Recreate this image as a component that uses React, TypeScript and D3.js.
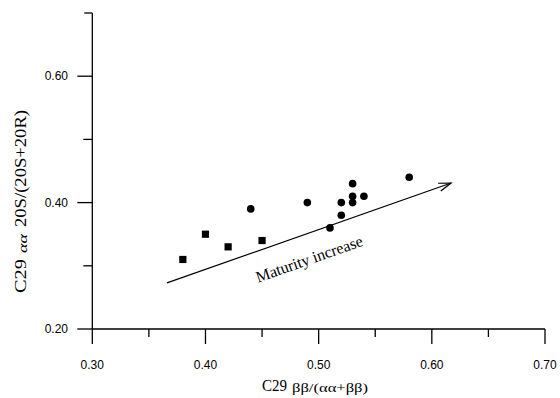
import React from "react";
import * as d3 from "d3";

const squareX = [0.38, 0.40, 0.42, 0.45];
const squareY = [0.31, 0.35, 0.33, 0.34];
const circleX = [0.44, 0.49, 0.52, 0.52, 0.51, 0.53, 0.53, 0.53, 0.54, 0.58];
const circleY = [0.39, 0.40, 0.40, 0.38, 0.36, 0.43, 0.41, 0.40, 0.41, 0.44];
const arrowX = [0.366, 0.617];
const arrowY = [0.273, 0.431];
const xMajorTicks = [0.3, 0.4, 0.5, 0.6, 0.7];
const xMinorTicks = [0.35, 0.45, 0.55, 0.65];
const yMajorTicks = [0.2, 0.4, 0.6];
const yMinorTicks = [0.3, 0.5];
const arrowLabel = "Maturity increase";

export default function App() {
  const x = d3.scaleLinear().domain([0.3, 0.7]).range([92.3, 545]);
  const y = d3.scaleLinear().domain([0.2, 0.7]).range([329, 13]);
  const tickFont = "'Liberation Sans', Arial, sans-serif";
  const serif = "'Liberation Serif', 'Times New Roman', serif";

  const x0 = x(arrowX[0]), y0 = y(arrowY[0]);
  const x1 = x(arrowX[1]), y1 = y(arrowY[1]);
  const ang = Math.atan2(y1 - y0, x1 - x0);
  const head = 13;
  const spread = 0.32;
  const hx1 = x1 - head * Math.cos(ang - spread), hy1 = y1 - head * Math.sin(ang - spread);
  const hx2 = x1 - head * Math.cos(ang + spread), hy2 = y1 - head * Math.sin(ang + spread);
  const deg = (ang * 180) / Math.PI;

  return (
    <svg width={560} height={398} style={{ position: "absolute", left: 0, top: 0, background: "#fff" }}>
      <rect width={560} height={398} fill="#fff" />
      {/* axes */}
      <line x1={x(0.3)} x2={x(0.3)} y1={y(0.7)} y2={y(0.2)} stroke="#000" strokeWidth={1.3} />
      <line x1={x(0.3)} x2={x(0.7)} y1={y(0.2)} y2={y(0.2)} stroke="#000" strokeWidth={1.3} />
      {/* y ticks */}
      {yMajorTicks.map((t) => (
        <g key={"ym" + t}>
          <line x1={x(0.3) - 15} x2={x(0.3)} y1={y(t)} y2={y(t)} stroke="#000" strokeWidth={1.3} />
          <text x={68} y={y(t)} dy="0.35em" textAnchor="end" fontFamily={tickFont} fontSize={12}>
            {t.toFixed(2)}
          </text>
        </g>
      ))}
      <line x1={x(0.3) - 8} x2={x(0.3)} y1={y(0.7)} y2={y(0.7)} stroke="#000" strokeWidth={1.3} />
      {yMinorTicks.map((t) => (
        <line key={"yn" + t} x1={x(0.3) - 9} x2={x(0.3)} y1={y(t)} y2={y(t)} stroke="#000" strokeWidth={1.3} />
      ))}
      {/* x ticks */}
      {xMajorTicks.map((t) => (
        <g key={"xm" + t}>
          <line x1={x(t)} x2={x(t)} y1={y(0.2)} y2={y(0.2) + 15} stroke="#000" strokeWidth={1.3} />
          <text x={x(t)} y={369} textAnchor="middle" fontFamily={tickFont} fontSize={12}>
            {t.toFixed(2)}
          </text>
        </g>
      ))}
      {xMinorTicks.map((t) => (
        <line key={"xn" + t} x1={x(t)} x2={x(t)} y1={y(0.2)} y2={y(0.2) + 8} stroke="#000" strokeWidth={1.3} />
      ))}
      {/* x axis title */}
      <text x={262} y={391} fontFamily={serif} fontSize={16} fill="#000" textLength={25} lengthAdjust="spacingAndGlyphs">
        C29
      </text>
      <text x={292} y={392} fontFamily={serif} fontSize={13.5} fill="#000" textLength={76} lengthAdjust="spacingAndGlyphs">
        ββ/(αα+ββ)
      </text>
      {/* y axis title */}
      <g transform="translate(26,293) rotate(-90)">
        <text x={0} y={0} fontFamily={serif} fontSize={16} fill="#000" textLength={34} lengthAdjust="spacingAndGlyphs">
          C29
        </text>
        <text x={40} y={1} fontFamily={serif} fontSize={13} fontStyle="italic" fill="#000" textLength={19} lengthAdjust="spacingAndGlyphs">
          αα
        </text>
        <text x={66} y={0} fontFamily={serif} fontSize={16} fill="#000" textLength={117} lengthAdjust="spacingAndGlyphs">
          20S/(20S+20R)
        </text>
      </g>
      {/* arrow */}
      <line x1={x0} y1={y0} x2={x1} y2={y1} stroke="#000" strokeWidth={1.2} />
      <polyline
        points={`${hx1},${hy1} ${x1},${y1} ${hx2},${hy2}`}
        fill="none"
        stroke="#000"
        strokeWidth={1.2}
      />
      <text
        transform={`translate(311,264) rotate(${deg})`}
        textAnchor="middle"
        fontFamily={serif}
        fontSize={16}
        fill="#000"
      >
        {arrowLabel}
      </text>
      {/* points */}
      {squareX.map((v, i) => (
        <rect key={"s" + i} x={x(v) - 3.6} y={y(squareY[i]) - 3.6} width={7.2} height={7.2} fill="#000" />
      ))}
      {circleX.map((v, i) => (
        <circle key={"c" + i} cx={x(v)} cy={y(circleY[i])} r={3.8} fill="#000" />
      ))}
    </svg>
  );
}
